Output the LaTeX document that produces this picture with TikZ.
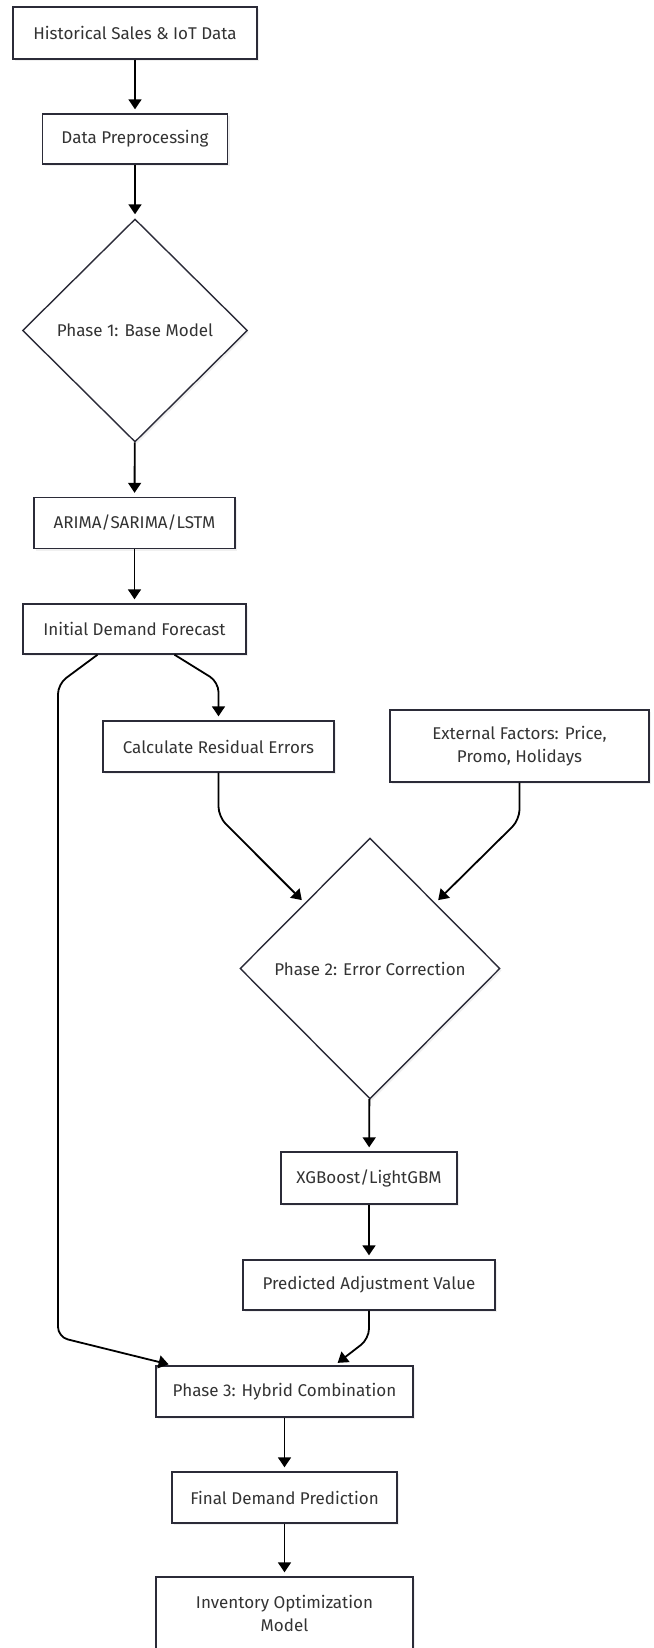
\documentclass[tikz,border=0pt]{standalone}
\usepackage{fontspec}
\setmainfont{Fira Sans}
\usetikzlibrary{positioning,shapes.geometric,arrows.meta,calc,shadows}
\definecolor{boxline}{HTML}{2B2B38}
\definecolor{txt}{HTML}{333333}

\begin{document}
\begin{tikzpicture}[x=1pt, y=-1pt,
    box/.style={draw=boxline, line width=1.4pt, fill=white, text=txt, align=center,
        font=\fontsize{17}{23}\selectfont, inner sep=0pt,
        drop shadow={shadow xshift=2pt, shadow yshift=-2pt, opacity=0.12}},
    phase/.style={box, diamond, aspect=1},
    flow/.style={-{Triangle[length=10pt,width=13pt]}, line width=1.8pt, shorten >=4pt, rounded corners=10pt}]
    \useasboundingbox (0,0) rectangle (653,1648);

    \node[box, minimum width=244pt, minimum height=52pt] (hist) at (135,33) {Historical Sales \& IoT Data};
    \node[box, minimum width=185pt, minimum height=50pt] (prep) at (135,139) {Data Preprocessing};
    \node[phase, minimum width=225pt, minimum height=223pt] (ph1) at (135,330.5) {Phase 1: Base Model};
    \node[box, minimum width=201pt, minimum height=51pt] (base) at (134.5,523) {ARIMA/SARIMA/LSTM};
    \node[box, minimum width=223pt, minimum height=50pt] (init) at (134.5,629) {Initial Demand Forecast};
    \node[box, minimum width=231pt, minimum height=51pt] (resid) at (218.5,746.5) {Calculate Residual Errors};
    \node[box, minimum width=259pt, minimum height=72pt] (ext) at (519.5,746) {External Factors: Price,\\Promo, Holidays};
    \node[phase, minimum width=260pt, minimum height=261pt] (ph2) at (370,968.5) {Phase 2: Error Correction};
    \node[box, minimum width=176pt, minimum height=52pt] (xgb) at (369,1178) {XGBoost/LightGBM};
    \node[box, minimum width=252pt, minimum height=50pt] (adj) at (369,1285) {Predicted Adjustment Value};
    \node[box, minimum width=257pt, minimum height=51pt] (hyb) at (284.5,1391.5) {Phase 3: Hybrid Combination};
    \node[box, minimum width=225pt, minimum height=51pt] (final) at (284.5,1497.5) {Final Demand Prediction};
    \node[box, minimum width=257pt, minimum height=72pt] (inv) at (284.5,1613) {Inventory Optimization\\Model};

    \draw[flow] (hist) -- (prep);
    \draw[flow] (prep) -- (ph1);
    \draw[flow] (ph1) -- (base);
    \draw[flow] (base) -- (init);
    \draw[flow] ($(init.south)+(40,0)$) -- (resid.north |- 0,682) -- (resid.north);
    \draw[flow] ($(init.south)+(-37,0)$) -- (58,684) -- (58,1337) -- ($(hyb.north)+(-112,0)$);
    \draw[flow] (resid.south) -- ++(0,44) -- (ph2.north west);
    \draw[flow] (ext.south) -- ++(0,37) -- (ph2.north east);
    \draw[flow] (ph2) -- (xgb);
    \draw[flow] (xgb) -- (adj);
    \draw[flow] (adj.south) -- ++(0,28) -- ($(hyb.north)+(50,0)$);
    \draw[flow] (hyb) -- (final);
    \draw[flow] (final) -- (inv);
\end{tikzpicture}
\end{document}
